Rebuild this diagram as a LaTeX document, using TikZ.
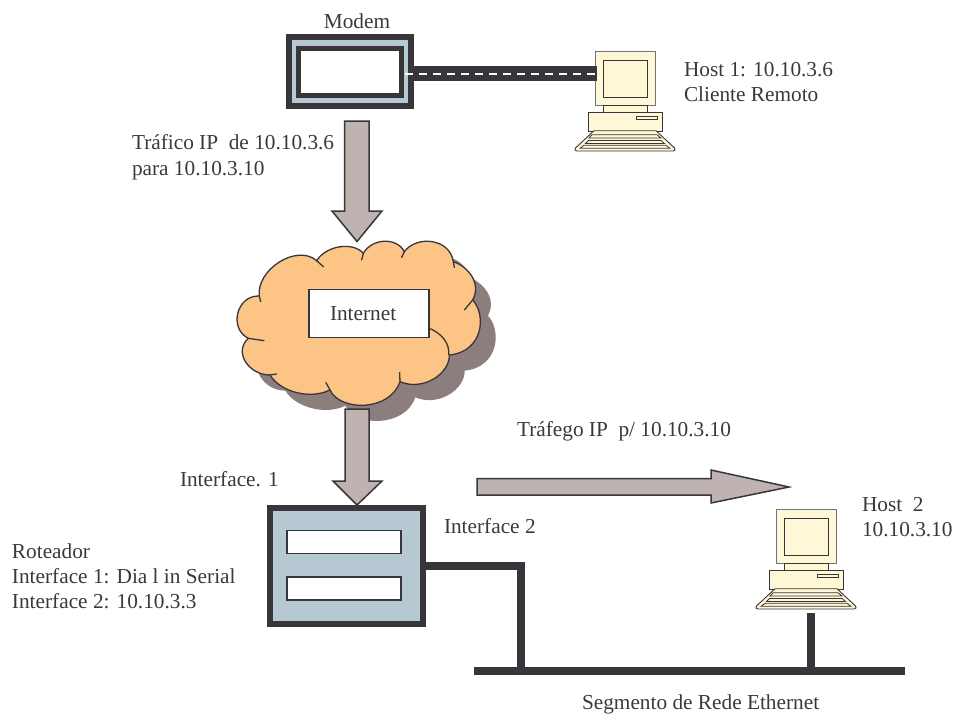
\documentclass[tikz,border=0pt]{standalone}
\usepackage{fontspec}
\setmainfont{Liberation Serif}
\definecolor{ink}{HTML}{38363B}
\definecolor{txt}{HTML}{3A383C}
\definecolor{steel}{HTML}{B6C9D3}
\definecolor{taupe}{HTML}{BEB3B1}
\definecolor{cloudfill}{HTML}{FDC585}
\definecolor{cloudshade}{HTML}{8C7E7C}
\definecolor{cream}{HTML}{FFF8D6}
\tikzset{
  lbl/.style={anchor=base west,inner sep=0pt,outer sep=0pt,text=txt,font=\fontsize{21.3}{24}\selectfont},
  heavybox/.style={draw=ink,line width=#1,rectangle,inner sep=0pt,outer sep=0pt},
  slotbox/.style={draw=ink,line width=1.6pt,fill=white,rectangle,inner sep=0pt,outer sep=0pt,minimum width=114pt,minimum height=23pt},
  thickline/.style={draw=ink,line width=8pt},
  blockarrow/.style={draw=ink,fill=taupe,line width=1.5pt,line join=miter},
  pcpart/.style={draw=ink,fill=cream,line width=0.9pt},
  pc/.pic={
    \draw[draw=ink!70!white,fill=cream,line width=1pt] (0,0) rectangle (60,54);
    \draw[pcpart] (8,9) rectangle (52,46);
    \draw[pcpart] (8,54) rectangle (52,61);
    \draw[pcpart] (-7,61) rectangle (67,80);
    \draw[pcpart] (41,65) rectangle (62,68);
    \draw[pcpart,line join=round] (-1,79.7) -- (61,79.7) -- (79.5,97) .. controls (80.5,98.5) and (80.5,100) .. (78,100) -- (-18,100) .. controls (-20.5,100) and (-20.5,98.5) .. (-19.5,97) -- cycle;
    \draw[pcpart,line width=0.8pt] (-3,83.7) -- (62,83.7) -- (66,87) -- (-6,87) -- cycle;
    \draw[pcpart,line width=0.8pt] (-6.5,89.5) -- (66,89.5) -- (69.5,92.5) -- (-9.5,92.5) -- cycle;
    \draw[pcpart,line width=0.8pt] (-11,94.3) -- (71,94.3) -- (75,97.3) -- (-15,97.3) -- cycle;
  }
}
\newcommand{\cloudpath}{(118,228) .. controls (108,150) and (230,70) .. (290,122)
  .. controls (320,75) and (400,65) .. (430,100)
  .. controls (455,55) and (530,50) .. (553,95)
  .. controls (590,45) and (690,55) .. (700,125)
  .. controls (745,140) and (785,190) .. (758,240)
  .. controls (800,285) and (790,395) .. (688,405)
  .. controls (690,460) and (610,515) .. (540,485)
  .. controls (510,575) and (360,575) .. (330,510)
  .. controls (270,540) and (180,515) .. (150,465)
  .. controls (85,465) and (40,395) .. (85,355)
  .. controls (25,325) and (50,225) .. (118,228) -- cycle}
\begin{document}
\begin{tikzpicture}[x=1pt,y=-1pt]
\useasboundingbox (0,0) rectangle (956,713);
% Cloud
\begin{scope}[shift={(220,220)},x=0.3333pt,y=-0.3333pt]
  \fill[cloudshade,shift={(46,47)}] \cloudpath;
  \filldraw[draw=ink,fill=cloudfill,line width=1.3pt] \cloudpath;
  \draw[draw=ink,line width=1.3pt,line cap=round]
    (290,122) -- (310,140)
    (430,100) -- (425,120)
    (553,95) -- (545,112)
    (700,125) -- (703,142)
    (758,240) -- (733,270)
    (540,485) -- (539,458)
    (330,510) -- (318,488)
    (150,465) -- (170,462)
    (85,355) -- (132,362)
    (118,228) -- (122,245);
\end{scope}
\node[draw=ink,line width=1.5pt,fill=white,rectangle,inner sep=0pt,outer sep=0pt,minimum width=120pt,minimum height=48pt] (inetbox) at (369,313.5) {};
\begin{scope}[shift={(220,220)},x=0.3333pt,y=-0.3333pt]
  \draw[draw=ink,line width=1.3pt] (628,325) .. controls (665,340) and (690,370) .. (686,405);
\end{scope}
\node[lbl] (inettxt) at (330,320) {Internet};
% Block arrows
\draw[blockarrow] (344.5,121) -- (369,121) -- (369,211) -- (382,211) -- (357,241.5) -- (332,211) -- (344.5,211) -- cycle;
\draw[blockarrow] (345,409) -- (369,409) -- (369,481) -- (382,481) -- (357,505) -- (333,481) -- (345,481) -- cycle;
\draw[blockarrow] (477,478.5) -- (711,478.5) -- (711,470) -- (789,487) -- (711,503) -- (711,495) -- (477,495) -- cycle;
% Modem
\node[heavybox=6pt,fill=steel,minimum width=122pt,minimum height=69pt] (modem) at (350,71.5) {};
\node[heavybox=5pt,fill=white,minimum width=103pt,minimum height=47pt] (modemin) at (350,72) {};
% Host computers
\coordinate (hostone) at (595,51);
\coordinate (hosttwo) at (776,509);
\pic at (hostone) {pc};
\pic at (hosttwo) {pc};
% Cable
\coordinate (hostonein) at (597,73.5);
\draw[draw=ink,line width=15pt] (modem.east |- hostonein) -- (hostonein);
\draw[draw=white,line width=2pt,dash pattern=on 7.5pt off 6.5pt] ([xshift=-6pt]modem.east |- hostonein) -- (hostonein);
% Router
\node[heavybox=6pt,fill=steel,minimum width=153pt,minimum height=116pt] (router) at (346.5,566) {};
\node[slotbox] (slotone) at (344,542) {};
\node[slotbox] (slottwo) at (344,588.5) {};
% Ethernet
\coordinate (busw) at (474,671);
\coordinate (buse) at (905,671);
\coordinate (hosttwoleg) at (811,613);
\coordinate (routerdrop) at (521,671);
\draw[thickline] (busw) -- (buse);
\draw[thickline] (hosttwoleg) -- (hosttwoleg |- buse);
\draw[thickline,line join=miter] (router.east |- 0,566) -- (routerdrop |- 0,566) -- (routerdrop);
% Labels
\node[lbl,anchor=base] (tmodem) at (357,28) {Modem};
\node[lbl] (th1a) at (684,76) {Host 1: 10.10.3.6};
\node[lbl] (th1b) at (684,101) {Cliente Remoto};
\node[lbl] (tip1a) at (132,149) {Tráfico IP\ \ de 10.10.3.6};
\node[lbl] (tip1b) at (132,175) {para 10.10.3.10};
\node[lbl] (tip2) at (517,436) {Tráfego IP\ \ p/ 10.10.3.10};
\node[lbl] (tif1) at (180,486) {Interface. 1};
\node[lbl] (tif2) at (444,533) {Interface 2};
\node[lbl] (th2a) at (862,511) {Host\ \ 2};
\node[lbl] (th2b) at (862,536) {10.10.3.10};
\node[lbl] (trota) at (12,558) {Roteador};
\node[lbl] (trotb) at (12,583) {Interface 1: Dia l in Serial};
\node[lbl] (trotc) at (12,608) {Interface 2: 10.10.3.3};
\node[lbl] (tseg) at (582,709) {Segmento de Rede Ethernet};
\end{tikzpicture}
\end{document}
